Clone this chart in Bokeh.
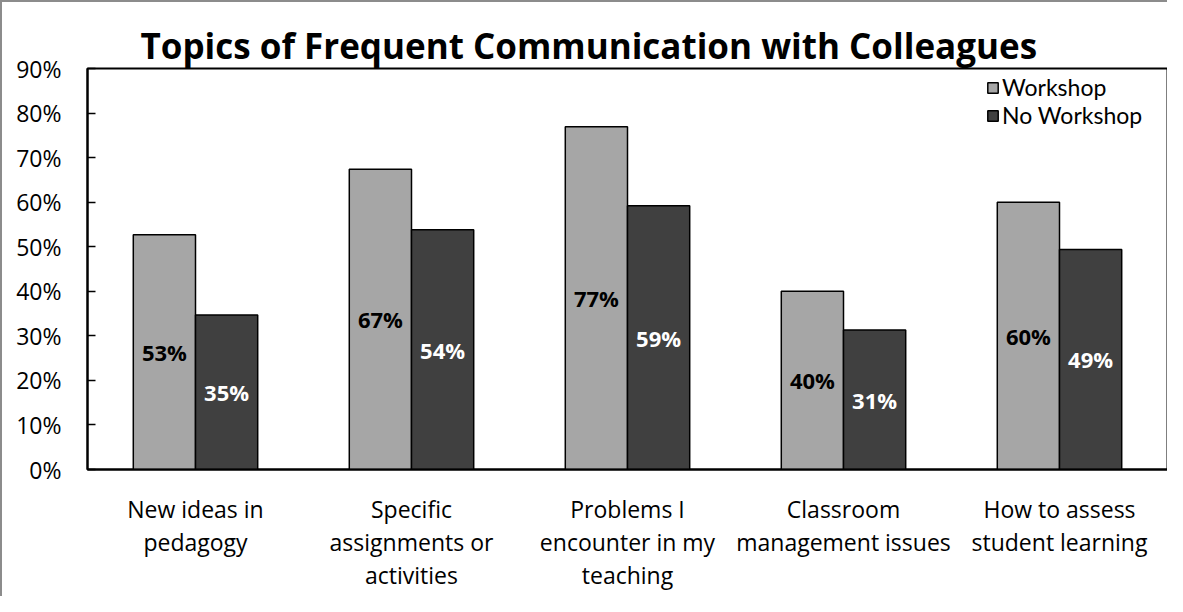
from bokeh.plotting import figure
from bokeh.models import (ColumnDataSource, FactorRange, Range1d, FixedTicker,
                          NumeralTickFormatter, CategoricalAxis)
from bokeh.transform import dodge
from bokeh.core.properties import value
from bokeh.embed import file_html
from bokeh.resources import INLINE

# ---- data ----
categories = ["New ideas in pedagogy", "Specific assignments or activities",
              "Problems I encounter in my teaching", "Classroom management issues",
              "How to assess student learning"]
# category labels split into the lines shown under the axis
label_line1 = ["New ideas in", "Specific", "Problems I", "Classroom", "How to assess"]
label_line2 = ["pedagogy", "assignments or", "encounter in my", "management issues", "student learning"]
label_line3 = [" ", "activities", "teaching", "  ", "   "]
workshop = [0.527, 0.674, 0.769, 0.400, 0.600]
no_workshop = [0.347, 0.538, 0.592, 0.313, 0.494]
series_names = ["Workshop", "No Workshop"]
y_ticks = [0.0, 0.1, 0.2, 0.3, 0.4, 0.5, 0.6, 0.7, 0.8, 0.9]

FONT = "Open Sans"
TXT = "23px"

src = ColumnDataSource(dict(
    cat=categories,
    ws=workshop,
    nw=no_workshop,
    ws_half=[v / 2 for v in workshop],
    nw_half=[v / 2 for v in no_workshop],
    ws_lab=[f"{round(v * 100)}%" for v in workshop],
    nw_lab=[f"{round(v * 100)}%" for v in no_workshop],
))

p = figure(
    x_range=FactorRange(factors=categories),
    y_range=Range1d(0, 0.9),
    width=1167, height=596,
    output_backend="svg", toolbar_location=None,
    min_border_left=85, min_border_right=2, min_border_top=66, min_border_bottom=129,
    title="Topics of Frequent Communication with Colleagues",
    styles={"border-left": "2px solid #8c8c8c", "border-top": "2px solid #8c8c8c"},
)
p.extra_x_ranges = {
    "l1": FactorRange(factors=label_line1),
    "l2": FactorRange(factors=label_line2),
    "l3": FactorRange(factors=label_line3),
}

p.title.text_font = FONT
p.title.text_font_size = "35px"
p.title.text_font_style = "bold"
p.title.text_color = "black"
p.title.align = "left"
p.title.offset = 53
p.title.standoff = 0

BW = 0.288
p.vbar(x=dodge("cat", -BW / 2, range=p.x_range), top="ws", width=BW, source=src,
       fill_color="#a6a6a6", line_color="black", line_width=1.5, legend_label=series_names[0])
p.vbar(x=dodge("cat", BW / 2, range=p.x_range), top="nw", width=BW, source=src,
       fill_color="#404040", line_color="black", line_width=1.5, legend_label=series_names[1])

p.text(x=dodge("cat", -BW / 2, range=p.x_range), y="ws_half", text="ws_lab", source=src,
       text_font=value(FONT), text_font_style="bold", text_font_size="22px",
       text_color="black", text_align="center", text_baseline="middle")
p.text(x=dodge("cat", BW / 2, range=p.x_range), y="nw_half", text="nw_lab", source=src,
       text_font=value(FONT), text_font_style="bold", text_font_size="22px",
       text_color="white", text_align="center", text_baseline="middle")

p.outline_line_color = "black"
p.outline_line_width = 2
p.xgrid.visible = False
p.ygrid.visible = False
p.background_fill_color = "white"
p.border_fill_color = "white"

ya = p.yaxis[0]
ya.ticker = FixedTicker(ticks=y_ticks)
ya.formatter = NumeralTickFormatter(format="0%")
ya.axis_line_width = 2
ya.axis_line_color = "black"
ya.major_tick_in = 8
ya.major_tick_out = 0
ya.major_tick_line_width = 1.5
ya.minor_tick_line_color = None
ya.major_label_standoff = 26
ya.major_label_text_font = FONT
ya.major_label_text_font_size = TXT
ya.major_label_text_color = "black"


def style_x_axis(ax, standoff):
    ax.major_tick_line_color = None
    ax.minor_tick_line_color = None
    ax.major_tick_in = 0
    ax.major_tick_out = 0
    ax.major_label_standoff = standoff
    ax.major_label_text_font = FONT
    ax.major_label_text_font_size = TXT
    ax.major_label_text_color = "black"
    ax.major_label_orientation = "horizontal"


# main axis: the axis line plus the first line of each category label
xa = p.xaxis[0]
xa.x_range_name = "l1"
xa.axis_line_width = 2
xa.axis_line_color = "black"
style_x_axis(xa, 23)

# second and third lines of the labels
for name in ("l2", "l3"):
    ax = CategoricalAxis(x_range_name=name)
    ax.axis_line_color = None
    style_x_axis(ax, -2)
    p.add_layout(ax, "below")

lg = p.legend[0]
lg.location = "top_right"
lg.background_fill_alpha = 0
lg.border_line_alpha = 0
lg.glyph_width = 13
lg.glyph_height = 13
lg.label_standoff = 3
lg.spacing = 0
lg.padding = 5
lg.margin = 0
lg.label_text_font = "Lato"
lg.label_text_font_size = TXT
lg.label_text_color = "black"
lg.label_width = 160

open("out.html", "w").write(file_html(p, INLINE))
